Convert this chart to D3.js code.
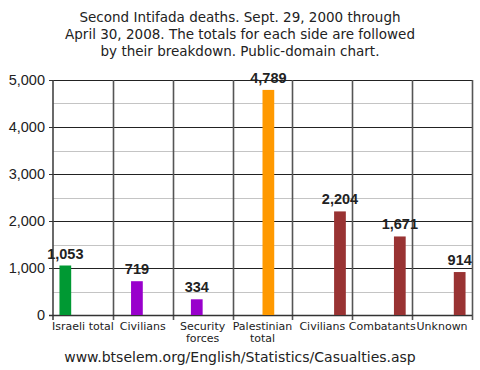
<!DOCTYPE html>
<html>
<head>
<meta charset="utf-8">
<script src="https://cdn.jsdelivr.net/npm/d3@7"></script>
<style>
  body { margin: 0; background: #fff; }
  text { font-family: "DejaVu Sans", sans-serif; fill: #222; }
</style>
</head>
<body>
<div class="chart"></div>
<script>
// data
var categories = ['Israeli total', 'Civilians', 'Security\nforces', 'Palestinian\ntotal', 'Civilians', 'Combatants', 'Unknown'];
var values = [1053, 719, 334, 4789, 2204, 1671, 914];
// which slot (series) each bar sits in within its band
var slots = [0, 1, 1, 2, 3, 3, 3];
var barColors = ['#009933', '#9900cc', '#9900cc', '#ff9900', '#993333', '#993333', '#993333'];
var yTicks = [0, 1000, 2000, 3000, 4000, 5000];
var titleLines = [
    'Second Intifada deaths. Sept. 29, 2000 through',
    'April 30, 2008. The totals for each side are followed',
    'by their breakdown. Public-domain chart.'
];
var footer = 'www.btselem.org/English/Statistics/Casualties.asp';

var W = 480, H = 370;
var margin = { top: 80, right: 8, bottom: 55, left: 53 };
var width = W - margin.left - margin.right;
var height = H - margin.top - margin.bottom;

var svg = d3.select('.chart')
    .append('svg')
    .attr('width', W)
    .attr('height', H);

// title
svg.append('g')
    .selectAll('text')
    .data(titleLines)
    .join('text')
    .attr('x', W / 2)
    .attr('y', (d, i) => 22 + i * 17)
    .attr('text-anchor', 'middle')
    .attr('fill', '#333')
    .style('font-size', '13.5px')
    .text(d => d);

var g = svg.append('g')
    .attr('transform', 'translate(' + margin.left + ',' + margin.top + ')');

var yScale = d3.scaleLinear()
    .domain([0, 5000])
    .range([height, 0]);

var xScale = d3.scaleBand()
    .domain(d3.range(categories.length))
    .range([0, width])
    .padding(0);

var slotScale = d3.scaleBand()
    .domain([0, 1, 2, 3])
    .range([0, xScale.bandwidth()])
    .paddingInner(0)
    .paddingOuter(0.55);

// minor grid every 500
g.append('g')
    .selectAll('line')
    .data(d3.range(500, 5000, 1000))
    .join('line')
    .attr('x1', 0)
    .attr('x2', width)
    .attr('y1', d => Math.round(yScale(d)) + 0.5)
    .attr('y2', d => Math.round(yScale(d)) + 0.5)
    .attr('stroke', '#c4c4c4');

// major grid
g.append('g')
    .selectAll('line')
    .data(yTicks.slice(1))
    .join('line')
    .attr('x1', 0)
    .attr('x2', width)
    .attr('y1', d => Math.round(yScale(d)) + 0.5)
    .attr('y2', d => Math.round(yScale(d)) + 0.5)
    .attr('stroke', '#222');

// vertical separators
g.append('g')
    .selectAll('line')
    .data(d3.range(1, categories.length + 1))
    .join('line')
    .attr('x1', i => Math.round(i * xScale.step()) + 0.5)
    .attr('x2', i => Math.round(i * xScale.step()) + 0.5)
    .attr('y1', 0)
    .attr('y2', height + 5)
    .attr('stroke', '#555')
    .attr('stroke-width', 1.6);

// y axis
var yAxis = g.append('g')
    .call(d3.axisLeft(yScale).tickValues(yTicks).tickFormat(d3.format(',')).tickSize(4).tickPadding(4));
yAxis.select('.domain')
    .attr('stroke', '#444')
    .attr('stroke-width', 1.6)
    .attr('d', 'M0,0V' + (height + 5));
yAxis.selectAll('.tick line').attr('stroke', '#333');
yAxis.selectAll('.tick text')
    .style('font-size', '14.5px')
    .style('font-family', '"Liberation Sans", sans-serif')
    .attr('fill', '#333');

// baseline
g.append('line')
    .attr('x1', -4)
    .attr('x2', width)
    .attr('y1', height + 0.5)
    .attr('y2', height + 0.5)
    .attr('stroke', '#333')
    .attr('stroke-width', 1.3);

// bars
g.append('g')
    .selectAll('rect')
    .data(values)
    .join('rect')
    .attr('x', (d, i) => xScale(i) + slotScale(slots[i]))
    .attr('width', slotScale.bandwidth())
    .attr('y', d => yScale(d))
    .attr('height', d => height - yScale(d))
    .attr('fill', (d, i) => barColors[i]);

// value labels
g.append('g')
    .selectAll('text')
    .data(values)
    .join('text')
    .attr('x', (d, i) => xScale(i) + slotScale(slots[i]) + slotScale.bandwidth() / 2)
    .attr('y', d => yScale(d) - 7)
    .attr('text-anchor', 'middle')
    .style('font-family', '"Liberation Sans", sans-serif')
    .style('font-size', '14.5px')
    .style('font-weight', 'bold')
    .attr('fill', '#111')
    .text(d => d3.format(',')(d));

// category labels
var cat = g.append('g')
    .selectAll('text')
    .data(categories)
    .join('text')
    .attr('x', (d, i) => xScale(i) + xScale.bandwidth() / 2)
    .attr('y', height + 15)
    .attr('text-anchor', 'middle')
    .style('font-size', '11px')
    .attr('fill', '#333');
cat.selectAll('tspan')
    .data(d => d.split('\n'))
    .join('tspan')
    .attr('x', function () { return this.parentNode.getAttribute('x'); })
    .attr('dy', (d, i) => i ? 12 : 0)
    .text(d => d);

// footer
svg.append('text')
    .attr('x', W / 2)
    .attr('y', 362)
    .attr('text-anchor', 'middle')
    .attr('fill', '#333')
    .style('font-size', '14px')
    .text(footer);
</script>
</body>
</html>
